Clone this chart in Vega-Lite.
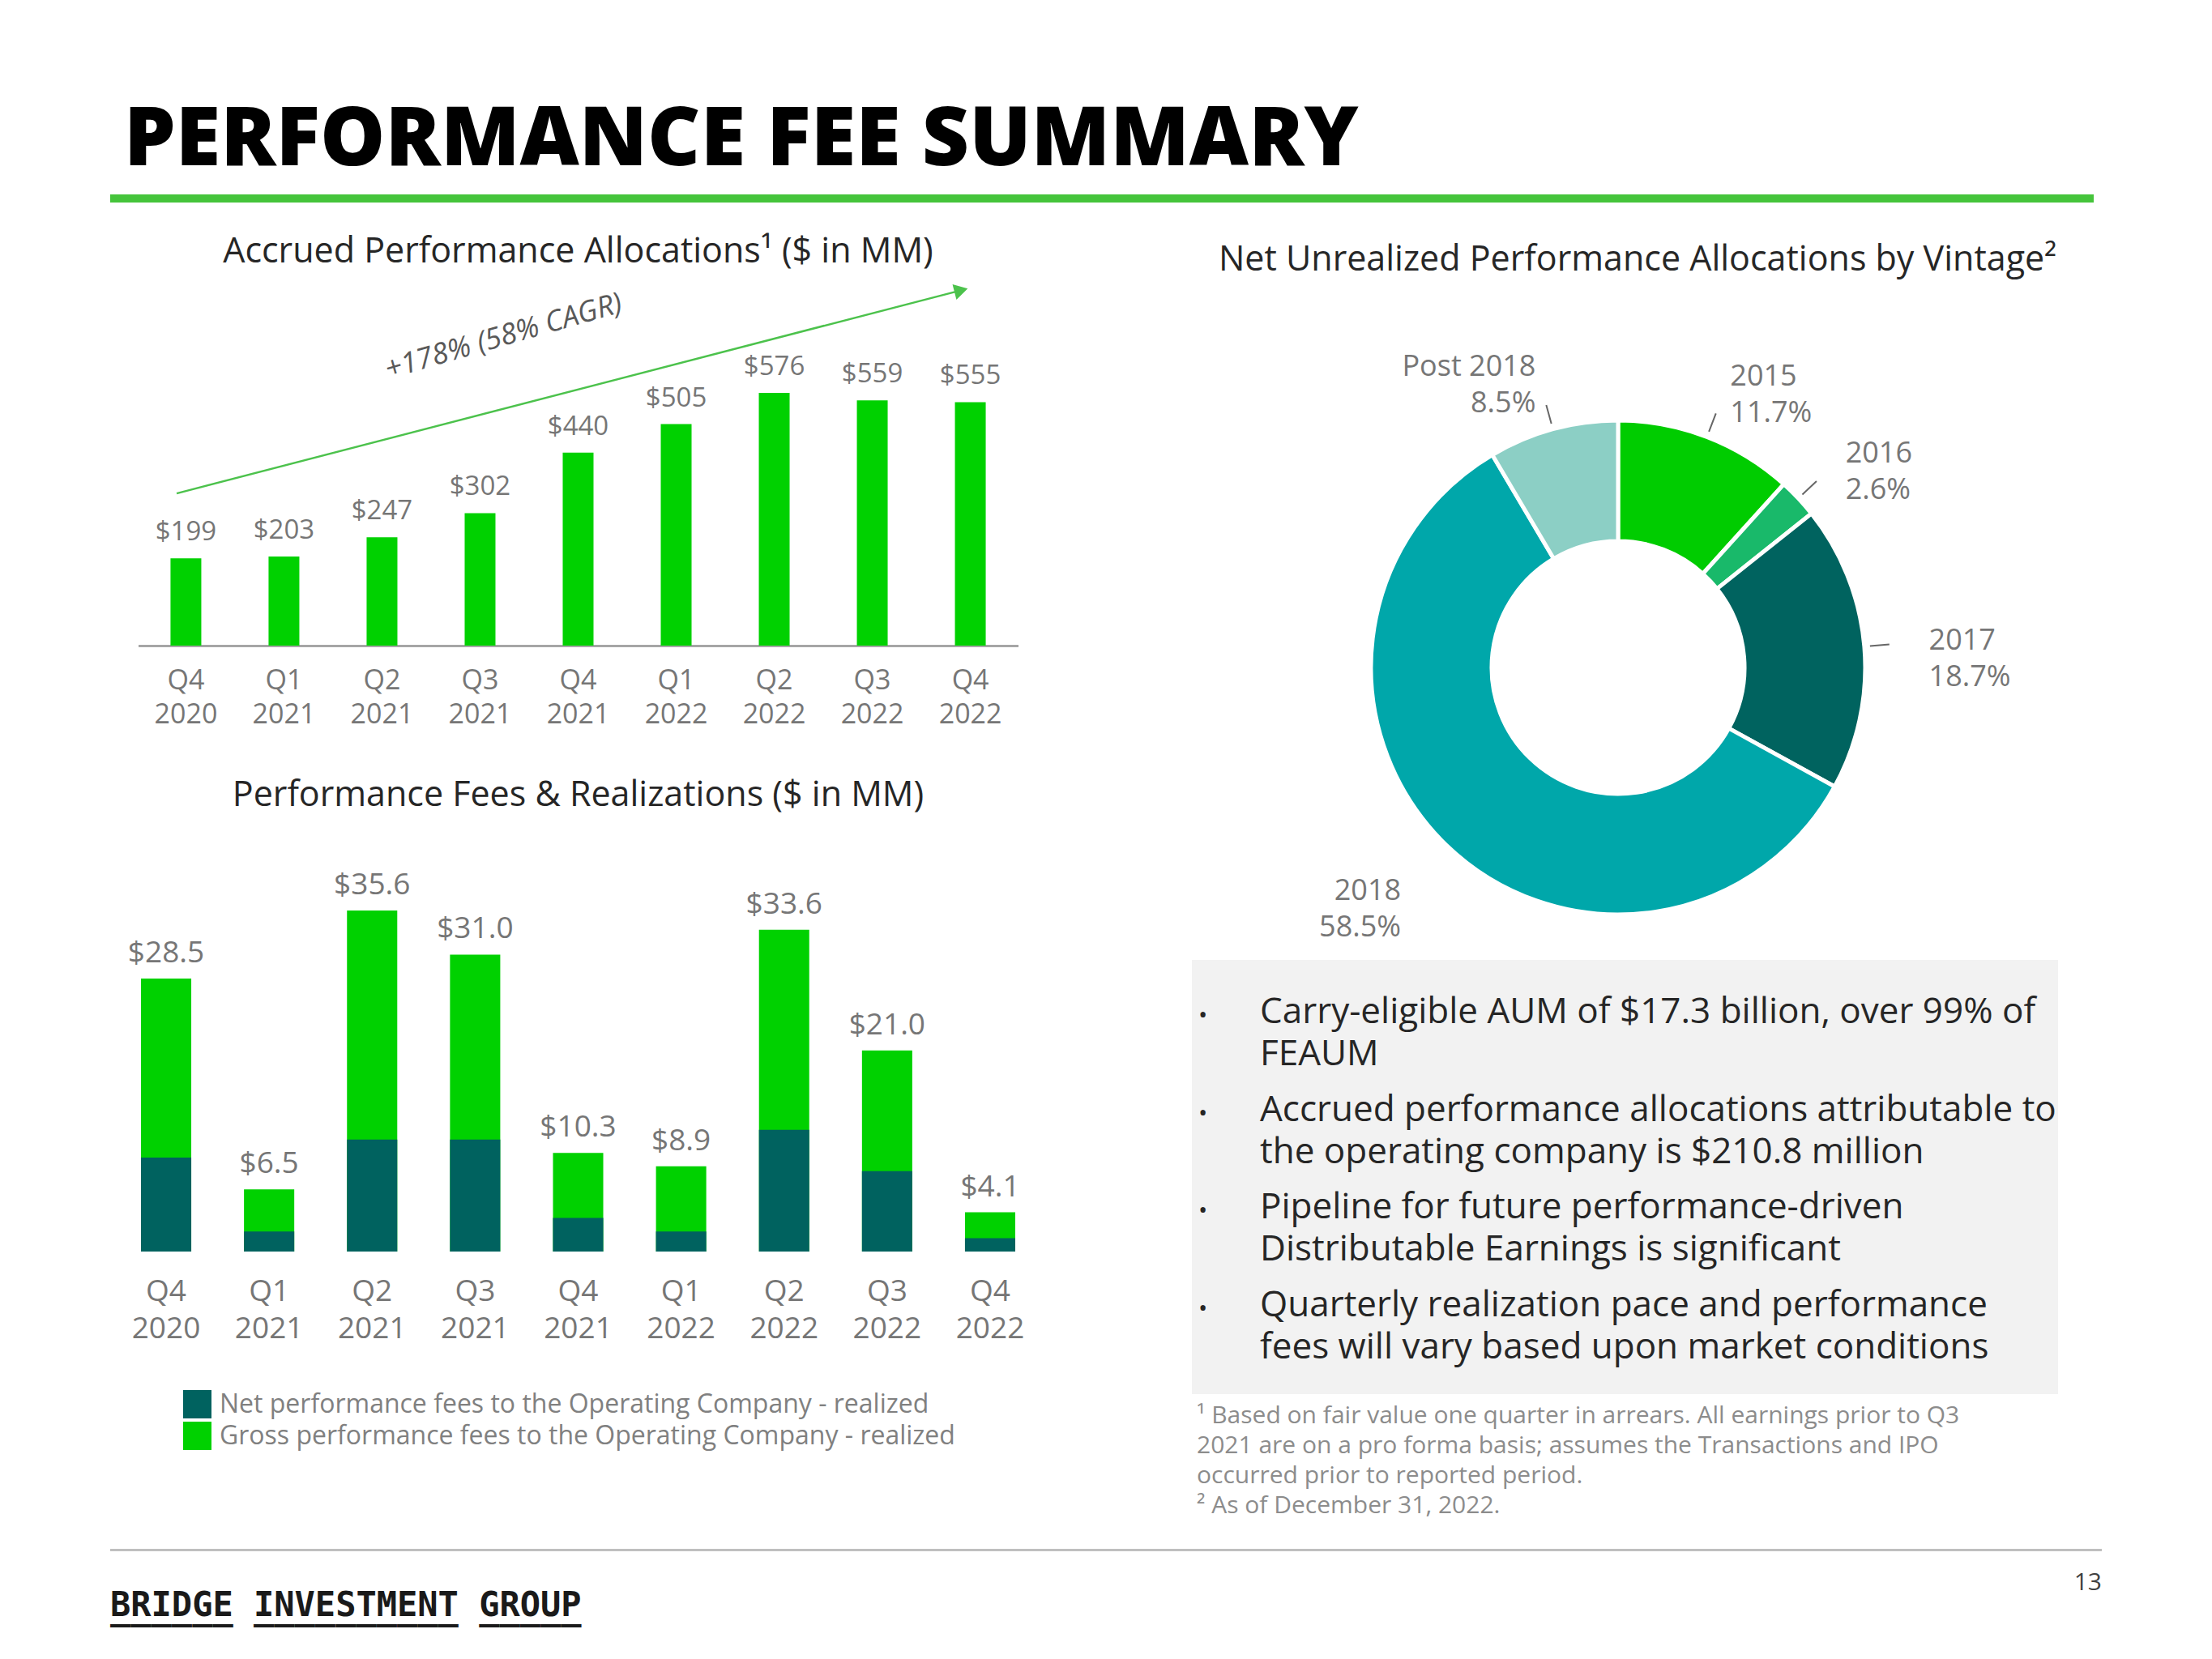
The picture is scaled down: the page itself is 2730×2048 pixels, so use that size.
{
  "$schema": "https://vega.github.io/schema/vega-lite/v6.json",
  "background": "#ffffff",
  "padding": {"left": 136, "top": 123, "right": 10, "bottom": 10},
  "config": {
    "font": "Open Sans",
    "view": {"stroke": null},
    "title": {"fontWeight": "normal", "font": "Open Sans"},
    "axis": {"labelFont": "Open Sans"},
    "legend": {"labelFont": "Open Sans"},
    "text": {"font": "Open Sans"}
  },
  "datasets": {
    "accrued": [
      {"q": "Q4 2020", "v": 199}, {"q": "Q1 2021", "v": 203}, {"q": "Q2 2021", "v": 247},
      {"q": "Q3 2021", "v": 302}, {"q": "Q4 2021", "v": 440}, {"q": "Q1 2022", "v": 505},
      {"q": "Q2 2022", "v": 576}, {"q": "Q3 2022", "v": 559}, {"q": "Q4 2022", "v": 555}
    ],
    "trend": [{"q": "Q4 2020", "v": 347}, {"q": "Q4 2022", "v": 810}],
    "trendLabel": [{"q": "Q3 2021", "v": 689, "t": "+178% (58% CAGR)"}],
    "fees": [
      {"q": "Q4 2020", "s": "Gross performance fees to the Operating Company - realized", "v": 28.5},
      {"q": "Q1 2021", "s": "Gross performance fees to the Operating Company - realized", "v": 6.5},
      {"q": "Q2 2021", "s": "Gross performance fees to the Operating Company - realized", "v": 35.6},
      {"q": "Q3 2021", "s": "Gross performance fees to the Operating Company - realized", "v": 31.0},
      {"q": "Q4 2021", "s": "Gross performance fees to the Operating Company - realized", "v": 10.3},
      {"q": "Q1 2022", "s": "Gross performance fees to the Operating Company - realized", "v": 8.9},
      {"q": "Q2 2022", "s": "Gross performance fees to the Operating Company - realized", "v": 33.6},
      {"q": "Q3 2022", "s": "Gross performance fees to the Operating Company - realized", "v": 21.0},
      {"q": "Q4 2022", "s": "Gross performance fees to the Operating Company - realized", "v": 4.1},
      {"q": "Q4 2020", "s": "Net performance fees to the Operating Company - realized", "v": 9.8},
      {"q": "Q1 2021", "s": "Net performance fees to the Operating Company - realized", "v": 2.1},
      {"q": "Q2 2021", "s": "Net performance fees to the Operating Company - realized", "v": 11.7},
      {"q": "Q3 2021", "s": "Net performance fees to the Operating Company - realized", "v": 11.7},
      {"q": "Q4 2021", "s": "Net performance fees to the Operating Company - realized", "v": 3.5},
      {"q": "Q1 2022", "s": "Net performance fees to the Operating Company - realized", "v": 2.1},
      {"q": "Q2 2022", "s": "Net performance fees to the Operating Company - realized", "v": 12.7},
      {"q": "Q3 2022", "s": "Net performance fees to the Operating Company - realized", "v": 8.4},
      {"q": "Q4 2022", "s": "Net performance fees to the Operating Company - realized", "v": 1.4}
    ],
    "vintage": [
      {"vintage": "2015", "pct": 11.7, "ord": 1, "label": "2015\n11.7%"},
      {"vintage": "2016", "pct": 2.6, "ord": 2, "label": "2016\n2.6%"},
      {"vintage": "2017", "pct": 18.7, "ord": 3, "label": "2017\n18.7%"},
      {"vintage": "2018", "pct": 58.5, "ord": 4, "label": "2018\n58.5%"},
      {"vintage": "Post 2018", "pct": 8.5, "ord": 5, "label": "Post 2018\n8.5%"}
    ],
    "bullets": [
      {"i": 1, "t": "Carry-eligible AUM of $17.3 billion, over 99% of\nFEAUM"},
      {"i": 2, "t": "Accrued performance allocations attributable to\nthe operating company is $210.8 million"},
      {"i": 3, "t": "Pipeline for future performance-driven\nDistributable Earnings is significant"},
      {"i": 4, "t": "Quarterly realization pace and performance\nfees will vary based upon market conditions"}
    ]
  },
  "resolve": {"scale": {"color": "independent"}, "legend": {"color": "independent"}},
  "spacing": 38,
  "vconcat": [
    {
      "spacing": 40,
      "resolve": {"scale": {"color": "independent"}, "legend": {"color": "independent"}},
      "vconcat": [
        {
          "width": 2448,
          "height": 10,
          "data": {"values": [{}]},
          "title": {"text": "PERFORMANCE FEE SUMMARY", "anchor": "start", "frame": "group", "fontSize": 101, "fontWeight": 800, "color": "#000000", "dx": 17, "offset": 15},
          "mark": {"type": "rect", "color": "#45c43b"},
          "encoding": {"x": {"value": 0}, "x2": {"value": "width"}, "y": {"value": 0}, "y2": {"value": "height"}}
        },
        {
          "spacing": 180,
          "resolve": {"scale": {"color": "independent"}, "legend": {"color": "independent"}},
          "hconcat": [
            {
              "bounds": "flush",
              "spacing": 284,
              "center": true,
              "vconcat": [
                {
                  "width": 1086,
                  "height": 326,
                  "title": {"text": "Accrued Performance Allocations¹ ($ in MM)", "fontSize": 43, "color": "#262626", "anchor": "middle", "frame": "group", "offset": 18},
                  "encoding": {
                    "x": {
                      "field": "q", "type": "ordinal", "sort": null,
                      "scale": {"domain": ["Q4 2020", "Q1 2021", "Q2 2021", "Q3 2021", "Q4 2021", "Q1 2022", "Q2 2022", "Q3 2022", "Q4 2022"], "paddingInner": 0.686, "paddingOuter": 0.33},
                      "axis": {"title": null, "labelAngle": 0, "labelExpr": "split(datum.label, ' ')", "ticks": false, "tickSize": 0, "domainColor": "#a6a6a6", "domainWidth": 3, "labelFontSize": 34, "labelLineHeight": 42, "labelColor": "#767676", "labelPadding": 26, "labelBaseline": "top"}
                    },
                    "y": {"field": "v", "type": "quantitative", "scale": {"domain": [0, 602]}, "axis": null}
                  },
                  "layer": [
                    {"data": {"name": "accrued"}, "mark": {"type": "bar", "color": "#00d100"}},
                    {"data": {"name": "accrued"}, "mark": {"type": "text", "baseline": "alphabetic", "dy": -22, "fontSize": 33, "color": "#767676"}, "encoding": {"text": {"field": "v", "type": "quantitative", "format": "$.0f"}}},
                    {"data": {"name": "trend"}, "mark": {"type": "line", "color": "#4cc24c", "strokeWidth": 2.5}, "encoding": {"x": {"field": "q", "type": "ordinal", "bandPosition": 0.2}}},
                    {"data": {"name": "trend"}, "transform": [{"filter": "datum.q == 'Q4 2022'"}], "mark": {"type": "point", "shape": "triangle-right", "angle": 345.5, "filled": true, "size": 380, "color": "#4cc24c", "opacity": 1}, "encoding": {"x": {"field": "q", "type": "ordinal", "bandPosition": 0.2}}},
                    {"data": {"name": "trendLabel"}, "mark": {"type": "text", "angle": 344, "dx": 30, "fontSize": 36, "fontStyle": "italic", "color": "#595959", "baseline": "middle"}, "encoding": {"text": {"field": "t"}}}
                  ]
                },
                {
                  "width": 1155,
                  "height": 464,
                  "title": {"text": "Performance Fees & Realizations ($ in MM)", "fontSize": 43, "color": "#262626", "anchor": "middle", "frame": "group", "offset": 70},
                  "data": {"name": "fees"},
                  "encoding": {
                    "x": {
                      "field": "q", "type": "ordinal", "sort": null,
                      "scale": {"paddingInner": 0.512, "paddingOuter": 0.299},
                      "axis": {"title": null, "labelAngle": 0, "labelExpr": "split(datum.label, ' ')", "ticks": false, "tickSize": 0, "domain": false, "labelFontSize": 37, "labelLineHeight": 46, "labelColor": "#767676", "labelPadding": 31, "labelBaseline": "top"}
                    },
                    "y": {"field": "v", "type": "quantitative", "stack": null, "scale": {"domain": [0, 39.24]}, "axis": null}
                  },
                  "layer": [
                    {
                      "mark": {"type": "bar"},
                      "encoding": {
                        "color": {
                          "field": "s", "type": "nominal",
                          "scale": {"domain": ["Net performance fees to the Operating Company - realized", "Gross performance fees to the Operating Company - realized"], "range": ["#00625f", "#00d100"]},
                          "legend": {"orient": "none", "legendX": 90, "legendY": 1245, "title": null, "symbolType": "square", "symbolSize": 1225, "symbolStrokeWidth": 0, "symbolOpacity": 1, "labelFontSize": 32, "labelColor": "#808080", "labelLimit": 0, "rowPadding": 4, "labelOffset": 10, "padding": 0}
                        }
                      }
                    },
                    {
                      "transform": [{"filter": "datum.s == 'Gross performance fees to the Operating Company - realized'"}],
                      "mark": {"type": "text", "baseline": "alphabetic", "dy": -20, "fontSize": 37, "color": "#767676"},
                      "encoding": {"text": {"field": "v", "type": "quantitative", "format": "$.1f"}}
                    }
                  ]
                }
              ]
            },
            {
              "bounds": "flush",
              "spacing": 8,
              "vconcat": [
                {
                  "width": 1052,
                  "height": 706,
                  "title": {"text": "Net Unrealized Performance Allocations by Vintage²", "fontSize": 43, "color": "#262626", "anchor": "middle", "frame": "group", "dx": 24, "offset": 92},
                  "data": {"name": "vintage"},
                  "encoding": {
                    "theta": {"field": "pct", "type": "quantitative", "stack": true},
                    "order": {"field": "ord", "type": "quantitative"}
                  },
                  "layer": [
                    {
                      "mark": {"type": "arc", "innerRadius": 156, "outerRadius": 305, "stroke": "#ffffff", "strokeWidth": 5},
                      "encoding": {"color": {"field": "vintage", "type": "nominal", "scale": {"domain": ["2015", "2016", "2017", "2018", "Post 2018"], "range": ["#00cc00", "#19b96a", "#00635f", "#00a7aa", "#8ccfc5"]}, "legend": null}}
                    },
                    {
                      "transform": [
                        {"stack": "pct", "groupby": [], "sort": [{"field": "ord", "order": "ascending"}], "as": ["t0", "t1"]},
                        {"filter": "datum.vintage != '2018'"}
                      ],
                      "mark": {"type": "arc", "innerRadius": 312, "outerRadius": 336, "padAngle": 3.1416, "filled": false, "stroke": "#666666", "strokeWidth": 2},
                      "encoding": {"theta": {"field": "t0", "type": "quantitative", "stack": null}, "theta2": {"field": "t1"}}
                    },
                    {
                      "mark": {"type": "text", "radius": 385, "fontSize": 36, "lineHeight": 45, "lineBreak": "\n", "color": "#767676", "baseline": "middle", "align": "left"},
                      "encoding": {"text": {"condition": {"test": "datum.ord <= 3", "field": "label"}, "value": ""}}
                    },
                    {
                      "mark": {"type": "text", "radius": 385, "fontSize": 36, "lineHeight": 45, "lineBreak": "\n", "color": "#767676", "baseline": "middle", "align": "right"},
                      "encoding": {"text": {"condition": {"test": "datum.ord > 3", "field": "label"}, "value": ""}}
                    }
                  ]
                },
                {
                  "width": 1069,
                  "height": 536,
                  "view": {"fill": "#f2f2f2", "stroke": null},
                  "title": {"text": ["¹ Based on fair value one quarter in arrears. All earnings prior to Q3", "2021 are on a pro forma basis; assumes the Transactions and IPO", "occurred prior to reported period.", "² As of December 31, 2022."], "orient": "bottom", "anchor": "start", "frame": "group", "fontSize": 30, "lineHeight": 37, "color": "#8c8c8c", "offset": 12, "dx": 6},
                  "data": {"name": "bullets"},
                  "encoding": {"y": {"field": "i", "type": "ordinal", "scale": {"type": "point", "padding": 0.72, "align": 0.449}, "axis": null}},
                  "layer": [
                    {"mark": {"type": "text", "text": "•", "x": 8, "align": "left", "baseline": "alphabetic", "fontSize": 30, "color": "#262626"}},
                    {"mark": {"type": "text", "x": 84, "align": "left", "baseline": "alphabetic", "fontSize": 44, "lineHeight": 52, "lineBreak": "\n", "color": "#262626"}, "encoding": {"text": {"field": "t"}}}
                  ]
                }
              ]
            }
          ]
        }
      ]
    },
    {
      "width": 2458,
      "height": 100,
      "data": {"values": [{}]},
      "layer": [
        {"mark": {"type": "rect", "color": "#bfbfbf"}, "encoding": {"x": {"value": 0}, "x2": {"value": "width"}, "y": {"value": 0}, "y2": {"value": 3}}},
        {"mark": {"type": "text", "text": "BRIDGE INVESTMENT GROUP", "align": "left", "baseline": "middle", "font": "DejaVu Sans Mono", "fontWeight": "bold", "fontSize": 42, "color": "#1a1a1a"}, "encoding": {"x": {"value": 0}, "y": {"value": 70}}},
        {"mark": {"type": "text", "text": "______ __________ _____", "align": "left", "baseline": "middle", "font": "DejaVu Sans Mono", "fontWeight": "bold", "fontSize": 42, "color": "#1a1a1a"}, "encoding": {"x": {"value": 0}, "y": {"value": 74}}},
        {"mark": {"type": "text", "text": "13", "align": "right", "baseline": "middle", "fontSize": 30, "color": "#404040"}, "encoding": {"x": {"value": "width"}, "y": {"value": 42}}}
      ]
    }
  ]
}
